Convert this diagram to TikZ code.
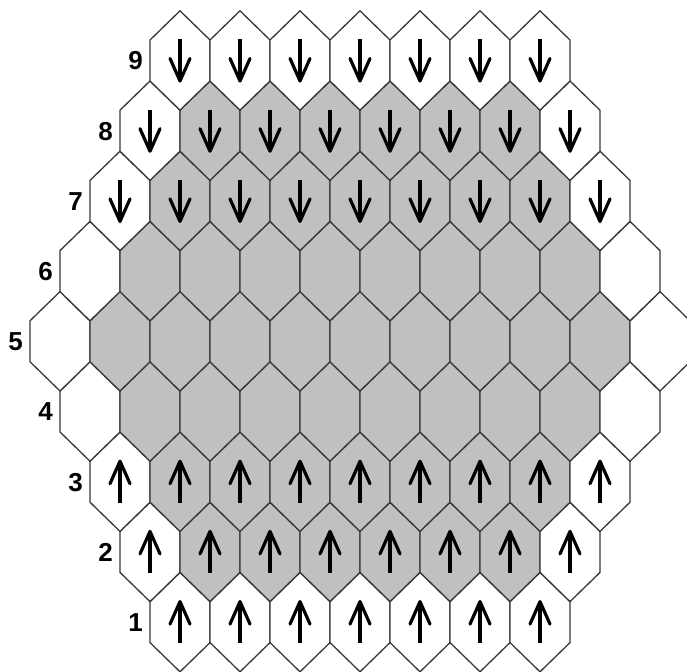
\documentclass[tikz,border=0pt]{standalone}
\usepackage{fontspec}
\setmainfont{Liberation Sans}
\definecolor{cellgray}{HTML}{C0C0C0}
\definecolor{hexgray}{HTML}{383838}
\tikzset{
  hexline/.style={draw=hexgray, line width=1.3pt, line join=miter},
  arrowshaft/.style={line width=4.2pt},
  arrowtip/.style={line width=3.2pt, line cap=round, line join=round},
  rowlabel/.style={font=\fontsize{26}{26}\selectfont\bfseries, inner sep=0pt}
}
\begin{document}
\begin{tikzpicture}[x=1pt,y=-1pt]
\useasboundingbox (0,0) rectangle (687,671);
% cell centres
\foreach \r in {1,...,9}{
  \pgfmathtruncatemacro\d{abs(\r-5)}
  \pgfmathtruncatemacro\n{11-\d}
  \foreach \i in {1,...,\n}{
    \pgfmathsetmacro\cx{60+30*\d+60*(\i-1)}
    \pgfmathsetmacro\cy{341.3-70.2*(\r-5)}
    \coordinate (c-\r-\i) at (\cx,\cy);
  }
}
% cells
\foreach \r in {1,...,9}{
  \pgfmathtruncatemacro\d{abs(\r-5)}
  \pgfmathtruncatemacro\n{11-\d}
  \foreach \i in {1,...,\n}{
    \pgfmathtruncatemacro\inner{(\r>1)&&(\r<9)&&(\i>1)&&(\i<\n)}
    \ifnum\inner=1 \def\fc{cellgray}\else\def\fc{white}\fi
    \path[hexline, fill=\fc, shift={(c-\r-\i)}]
      (0,-49.7) -- (30,-20.5) -- (30,20.5) -- (0,49.7) -- (-30,20.5) -- (-30,-20.5) -- cycle;
  }
}
% arrows up (rows 1-3)
\foreach \r in {1,2,3}{
  \pgfmathtruncatemacro\n{11-abs(\r-5)}
  \foreach \i in {1,...,\n}{
    \draw[arrowshaft, shift={(c-\r-\i)}] (0,21) -- (0,-19);
    \draw[arrowtip, shift={(c-\r-\i)}] (-10,2) .. controls (-5,-9) .. (0,-20.5) .. controls (5,-9) .. (10,2);
  }
}
% arrows down (rows 7-9)
\foreach \r in {7,8,9}{
  \pgfmathtruncatemacro\n{11-abs(\r-5)}
  \foreach \i in {1,...,\n}{
    \draw[arrowshaft, shift={(c-\r-\i)}] (0,-21) -- (0,19);
    \draw[arrowtip, shift={(c-\r-\i)}] (-10,-2) .. controls (-5,9) .. (0,20.5) .. controls (5,9) .. (10,-2);
  }
}
% row labels
\foreach \r in {1,...,9}{
  \pgfmathtruncatemacro\d{abs(\r-5)}
  \pgfmathsetmacro\lx{15.5+30*\d}
  \pgfmathsetmacro\ly{341.8-70.2*(\r-5)}
  \node[rowlabel] (lab-\r) at (\lx,\ly) {\r};
}
\end{tikzpicture}
\end{document}
